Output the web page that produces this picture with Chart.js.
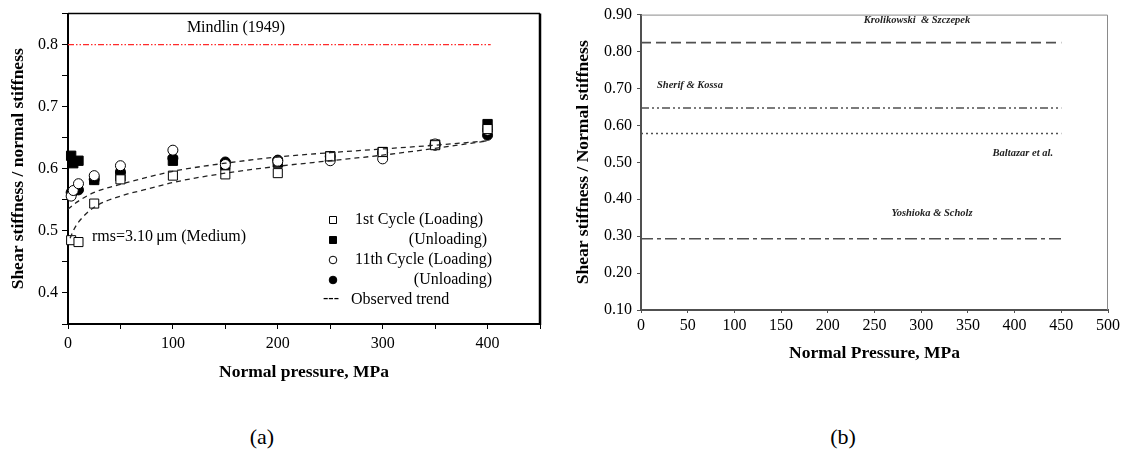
<!DOCTYPE html>
<html>
<head>
<meta charset="utf-8">
<script src="https://cdn.jsdelivr.net/npm/chart.js@4"></script>
<style>
  body { margin: 0; background: #fff; width: 1129px; height: 452px; overflow: hidden; position: relative; font-family: "Liberation Serif", serif; }
  canvas { position: absolute; top: 0; }
  #chartA { left: 0; }
  #chartB { left: 560px; }
  .cap { position: absolute; top: 424px; width: 60px; font-size: 22px; line-height: 26px; text-align: center; }
</style>
</head>
<body>
<canvas id="chartA" width="560" height="400"></canvas>
<canvas id="chartB" width="569" height="400"></canvas>
<div class="cap" style="left:232px">(a)</div>
<div class="cap" style="left:813px">(b)</div>
<script>
// ---- panel (a) data ----
const load1X = [3, 10, 25, 50, 100, 150, 200, 250, 300, 350, 400];
const load1Y = [0.485, 0.482, 0.544, 0.583, 0.589, 0.591, 0.593, 0.62, 0.627, 0.638, 0.664];
const unload1X = [3, 5, 10, 25, 50, 100, 150, 200, 250, 300, 350, 400];
const unload1Y = [0.621, 0.609, 0.613, 0.582, 0.588, 0.613, 0.606, 0.61, 0.62, 0.627, 0.639, 0.672];
const load11X = [3, 5, 10, 25, 50, 100, 150, 200, 250, 300, 350, 400];
const load11Y = [0.556, 0.565, 0.576, 0.589, 0.605, 0.63, 0.607, 0.612, 0.613, 0.616, 0.64, 0.662];
const unload11X = [3, 5, 10, 25, 50, 100, 150, 200, 250, 300, 350, 400];
const unload11Y = [0.562, 0.563, 0.566, 0.583, 0.595, 0.617, 0.611, 0.614, 0.62, 0.626, 0.638, 0.654];

const trendUpX = [0, 5, 10, 25, 50, 75, 100, 150, 200, 250, 300, 350, 400];
const trendUpY = [0.535, 0.542, 0.548, 0.562, 0.575, 0.586, 0.596, 0.609, 0.619, 0.626, 0.632, 0.638, 0.645];
const trendLowX = [2, 5, 10, 25, 50, 75, 100, 150, 200, 250, 300, 350, 400];
const trendLowY = [0.488, 0.5, 0.514, 0.538, 0.556, 0.567, 0.578, 0.593, 0.604, 0.613, 0.622, 0.633, 0.645];

const mindlinX = [0, 403];
const mindlinY = [0.8, 0.8];

// ---- panel (b) data ----
const refX = [0, 450];
const krolikowski = [0.824, 0.824];
const sherif = [0.647, 0.647];
const baltazar = [0.578, 0.578];
const yoshioka = [0.293, 0.293];

const serif = "'Liberation Serif', 'Times New Roman', serif";
Chart.defaults.font.family = serif;
Chart.defaults.color = '#000';

const pts = (xs, ys) => xs.map((x, i) => ({ x: x, y: ys[i] }));

function marker(ctx, style, filled, x, y, r) {
  ctx.beginPath();
  if (style === 'rect') ctx.rect(x - r, y - r, 2 * r, 2 * r);
  else ctx.arc(x, y, r, 0, Math.PI * 2);
  ctx.fillStyle = filled ? '#000' : '#fff';
  ctx.fill();
  ctx.strokeStyle = '#000';
  ctx.lineWidth = 1;
  ctx.stroke();
}

// frame + texts of (a)
const notesA = {
  id: 'notesA',
  afterDraw(chart) {
    const { ctx, chartArea: a } = chart;
    ctx.save();
    ctx.strokeStyle = '#000';
    ctx.lineWidth = 1.5;
    ctx.beginPath(); ctx.moveTo(a.left, a.top); ctx.lineTo(a.right, a.top); ctx.stroke();
    ctx.lineWidth = 2.5;
    ctx.beginPath(); ctx.moveTo(a.right, a.top); ctx.lineTo(a.right, a.bottom + 1); ctx.stroke();

    ctx.fillStyle = '#000';
    ctx.font = '16px ' + serif;
    ctx.textBaseline = 'middle';
    ctx.textAlign = 'center';
    ctx.fillText('Mindlin (1949)', 236, 28);
    ctx.textAlign = 'left';
    ctx.fillText('rms=3.10\u2009\u03bcm (Medium)', 92, 237);

    // legend
    marker(ctx, 'rect', false, 333, 220, 3.5);
    marker(ctx, 'rect', true, 333, 240, 3.5);
    marker(ctx, 'circle', false, 333, 260, 3.8);
    marker(ctx, 'circle', true, 333, 280, 3.8);
    ctx.fillStyle = '#000';
    ctx.textAlign = 'left';
    ctx.fillText('1st Cycle (Loading)', 355, 220);
    ctx.fillText('11th Cycle (Loading)', 355, 260);
    ctx.fillText('---', 323, 299);
    ctx.fillText('Observed trend', 351, 300);
    ctx.textAlign = 'right';
    ctx.fillText('(Unloading)', 487, 240);
    ctx.fillText('(Unloading)', 492, 280);
    ctx.restore();
  }
};

// frame + labels of (b)
const notesB = {
  id: 'notesB',
  afterDraw(chart) {
    const { ctx, chartArea: a } = chart;
    ctx.save();
    ctx.strokeStyle = '#8a8a8a';
    ctx.lineWidth = 1;
    ctx.beginPath();
    ctx.moveTo(a.left, a.top + 0.5); ctx.lineTo(a.right - 0.5, a.top + 0.5); ctx.lineTo(a.right - 0.5, a.bottom);
    ctx.stroke();

    ctx.fillStyle = '#222';
    ctx.font = 'italic bold 10.5px ' + serif;
    ctx.textBaseline = 'middle';
    ctx.textAlign = 'center';
    ctx.fillText('Krolikowski  & Szczepek', 357, 20);
    ctx.fillText('Yoshioka & Scholz', 372, 213);
    ctx.textAlign = 'left';
    ctx.fillText('Sherif & Kossa', 97, 85);
    ctx.textAlign = 'right';
    ctx.fillText('Baltazar et al.', 493, 153);
    ctx.restore();
  }
};

const tickFont = { size: 16, family: serif };
const titleFont = { size: 17.5, weight: 'bold', family: serif };

new Chart(document.getElementById('chartA'), {
  type: 'scatter',
  data: {
    datasets: [
      { label: 'Mindlin (1949)', type: 'line', data: pts(mindlinX, mindlinY), borderColor: '#ff2a2a', borderWidth: 1.2, borderDash: [6, 2, 1.5, 2, 1.5, 2], pointRadius: 0 },
      { label: 'Observed trend', type: 'line', data: pts(trendUpX, trendUpY), borderColor: '#222', borderWidth: 1.3, borderDash: [5, 4], pointRadius: 0, cubicInterpolationMode: 'monotone' },
      { label: 'Observed trend 2', type: 'line', data: pts(trendLowX, trendLowY), borderColor: '#222', borderWidth: 1.3, borderDash: [5, 4], pointRadius: 0, cubicInterpolationMode: 'monotone' },
      { label: '1st Cycle (Loading)', data: pts(load1X, load1Y), pointStyle: 'rect', pointRadius: 6.4, backgroundColor: '#fff', borderColor: '#000', borderWidth: 1, clip: false },
      { label: '11th Cycle (Loading)', data: pts(load11X, load11Y), pointStyle: 'circle', pointRadius: 5, backgroundColor: '#fff', borderColor: '#000', borderWidth: 1, clip: false },
      { label: '1st Cycle (Unloading)', data: pts(unload1X, unload1Y), pointStyle: 'rect', pointRadius: 6.6, backgroundColor: '#000', borderColor: '#000', borderWidth: 1, clip: false },
      { label: '11th Cycle (Unloading)', data: pts(unload11X, unload11Y), pointStyle: 'circle', pointRadius: 5, backgroundColor: '#000', borderColor: '#000', borderWidth: 1, clip: false }
    ]
  },
  options: {
    responsive: false,
    animation: false,
    layout: { padding: { top: 13, right: 20, left: 0, bottom: 0 } },
    plugins: { legend: { display: false }, tooltip: { enabled: false } },
    scales: {
      x: {
        type: 'linear', min: 0, max: 450,
        afterFit: (s) => { s.height = 76; },
        ticks: { stepSize: 50, font: tickFont, padding: 5, maxRotation: 0, callback: (v) => (v % 100 === 0 ? v : '') },
        grid: { drawOnChartArea: false, drawTicks: true, tickLength: 5, color: '#000' },
        border: { color: '#000', width: 2 },
        title: { display: true, text: 'Normal pressure, MPa', font: titleFont, padding: { top: 0, bottom: 17.5 } }
      },
      y: {
        min: 0.35, max: 0.85,
        afterFit: (s) => { s.width = 68; },
        ticks: { stepSize: 0.05, font: tickFont, padding: 4, callback: (v) => (Math.round(v * 100) % 10 === 0 ? v.toFixed(1) : '') },
        grid: { drawOnChartArea: false, drawTicks: true, tickLength: 6, color: '#000' },
        border: { color: '#000', width: 2 },
        title: { display: true, text: 'Shear stiffness / normal stiffness', font: titleFont, padding: { top: 7.5, bottom: 0 } }
      }
    }
  },
  plugins: [notesA]
});

const gray = '#505050';
new Chart(document.getElementById('chartB'), {
  type: 'line',
  data: {
    datasets: [
      { label: 'Krolikowski & Szczepek', data: pts(refX, krolikowski), borderColor: gray, borderWidth: 1.6, borderDash: [10, 5] },
      { label: 'Sherif & Kossa', data: pts(refX, sherif), borderColor: gray, borderWidth: 1.6, borderDash: [8, 3, 2, 3, 2, 3] },
      { label: 'Baltazar et al.', data: pts(refX, baltazar), borderColor: gray, borderWidth: 1.6, borderDash: [2, 3] },
      { label: 'Yoshioka & Scholz', data: pts(refX, yoshioka), borderColor: gray, borderWidth: 1.4, borderDash: [12, 4, 4, 4] }
    ]
  },
  options: {
    responsive: false,
    animation: false,
    elements: { point: { radius: 0 } },
    layout: { padding: { top: 9, right: 21, left: 0, bottom: 0 } },
    plugins: { legend: { display: false }, tooltip: { enabled: false } },
    scales: {
      x: {
        type: 'linear', min: 0, max: 500,
        afterFit: (s) => { s.height = 90; },
        ticks: { stepSize: 50, font: { size: 16, family: serif }, padding: 3, maxRotation: 0 },
        grid: { drawOnChartArea: false, drawTicks: true, tickLength: 3, color: gray },
        border: { color: gray, width: 2 },
        title: { display: true, text: 'Normal Pressure, MPa', font: titleFont, padding: { top: 0, bottom: 36.5 } }
      },
      y: {
        min: 0.1, max: 0.9,
        afterFit: (s) => { s.width = 81; },
        ticks: { stepSize: 0.1, font: { size: 16, family: serif }, padding: 5, callback: (v) => v.toFixed(2) },
        grid: { drawOnChartArea: false, drawTicks: true, tickLength: 4, color: gray },
        border: { color: gray, width: 2 },
        title: { display: true, text: 'Shear stiffness / Normal stiffness', font: titleFont, padding: { top: 12.5, bottom: 0 } }
      }
    }
  },
  plugins: [notesB]
});
</script>
</body>
</html>
